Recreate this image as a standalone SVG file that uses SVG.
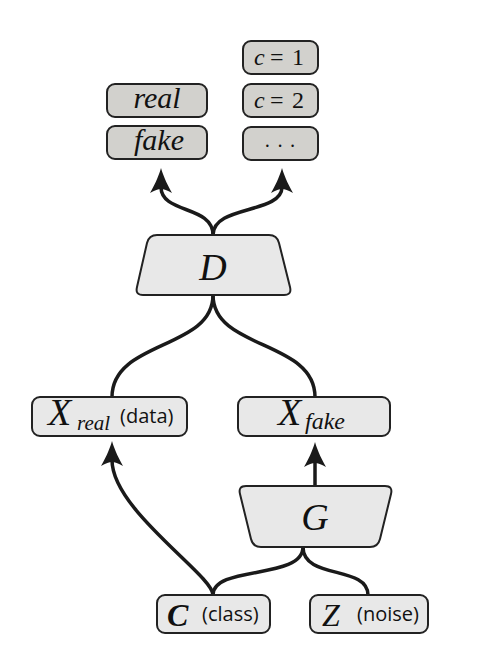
<svg xmlns="http://www.w3.org/2000/svg" width="492" height="656" viewBox="0 0 492 656">
<style>
.bx{stroke:#222;stroke-width:2}
.dk{fill:#d2d1cd}
.lt{fill:#e8e8e8}
.m{font-family:"Liberation Serif",serif;font-style:italic;fill:#111}
.r{font-family:"Liberation Serif",serif;fill:#111}
.s{font-family:"Open Sans","DejaVu Sans",sans-serif;fill:#111;font-size:20px}
.ln{fill:none;stroke:#1a1a1a;stroke-width:3.5}
</style>
<defs>
<marker id="ah" markerUnits="userSpaceOnUse" markerWidth="40" markerHeight="40" viewBox="-20 -20 40 40" refX="0" refY="0" orient="auto" overflow="visible">
<path d="M19,0 C10,-2.5 0,-7.5 -6,-11 Q-2,-4 -2,0 Q-2,4 -6,11 C0,7.5 10,2.5 19,0 Z" fill="#1a1a1a"/>
</marker>
</defs>
<rect width="492" height="656" fill="#fff"/>
<g id="connectors">
<path class="ln" d="M213,235 C213,205 161,214 161,187" marker-end="url(#ah)"/>
<path class="ln" d="M213,235 C213,205 282,214 282,187" marker-end="url(#ah)"/>
<path class="ln" d="M213,295 C213,350 112,340 112,397"/>
<path class="ln" d="M213,295 C213,350 315,340 315,397"/>
<path class="ln" d="M213,595 C213,575 112,510 112,460" marker-end="url(#ah)"/>
<path class="ln" d="M315,486 L315,461" marker-end="url(#ah)"/>
<path class="ln" d="M303,547 C303,580 213,565 213,595"/>
<path class="ln" d="M303,547 C303,580 368,565 368,595"/>
</g>
<g id="real">
<rect class="bx dk" x="107" y="84" width="100" height="33" rx="8"/>
<text class="m" x="157" y="108" font-size="30" text-anchor="middle">real</text>
</g>
<g id="fake">
<rect class="bx dk" x="107" y="126" width="100" height="33" rx="8"/>
<text class="m" x="159" y="150" font-size="30" text-anchor="middle">fake</text>
</g>
<g id="c1">
<rect class="bx dk" x="243" y="41" width="75" height="33" rx="8"/>
<text class="r" y="65" font-size="24"><tspan class="m" x="254">c</tspan><tspan x="270">=</tspan><tspan x="292">1</tspan></text>
</g>
<g id="c2">
<rect class="bx dk" x="243" y="84" width="75" height="33" rx="8"/>
<text class="r" y="108" font-size="24"><tspan class="m" x="254">c</tspan><tspan x="270">=</tspan><tspan x="292">2</tspan></text>
</g>
<g id="cdots">
<rect class="bx dk" x="243" y="127" width="75" height="33" rx="8"/>
<text class="r" x="283" y="153" font-size="20" text-anchor="middle" letter-spacing="6">···</text>
</g>
<g id="D">
<path class="bx lt" d="M157,235 L269,235 Q277,235 279,243 L290,287 Q292,295 284,295 L143,295 Q135,295 137,287 L147,243 Q149,235 157,235 Z"/>
<text class="m" x="213" y="280" font-size="38" text-anchor="middle">D</text>
</g>
<g id="Xreal">
<rect class="bx lt" x="32" y="397" width="155" height="39" rx="8"/>
<text class="m" x="48" y="425" font-size="38">X</text>
<text class="m" x="77" y="430" font-size="21">real</text>
<text class="s" x="120" y="423">(data)</text>
</g>
<g id="Xfake">
<rect class="bx lt" x="238" y="397" width="152" height="39" rx="8"/>
<text class="m" x="278" y="425" font-size="38">X</text>
<text class="m" x="305" y="429" font-size="24">fake</text>
</g>
<g id="G">
<path class="bx lt" d="M246,486 L385,486 Q393,486 391,494 L380,539 Q378,547 370,547 L261,547 Q253,547 251,539 L240,494 Q238,486 246,486 Z"/>
<text class="m" x="315" y="530" font-size="38" text-anchor="middle">G</text>
</g>
<g id="C">
<rect class="bx lt" x="157" y="595" width="113" height="38" rx="8"/>
<text class="m" x="167" y="626" font-size="32" font-weight="bold">C</text>
<text class="s" x="202" y="621">(class)</text>
</g>
<g id="Z">
<rect class="bx lt" x="310" y="595" width="118" height="38" rx="8"/>
<text class="m" x="322" y="626" font-size="32">Z</text>
<text class="s" x="357" y="621">(noise)</text>
</g>
</svg>
